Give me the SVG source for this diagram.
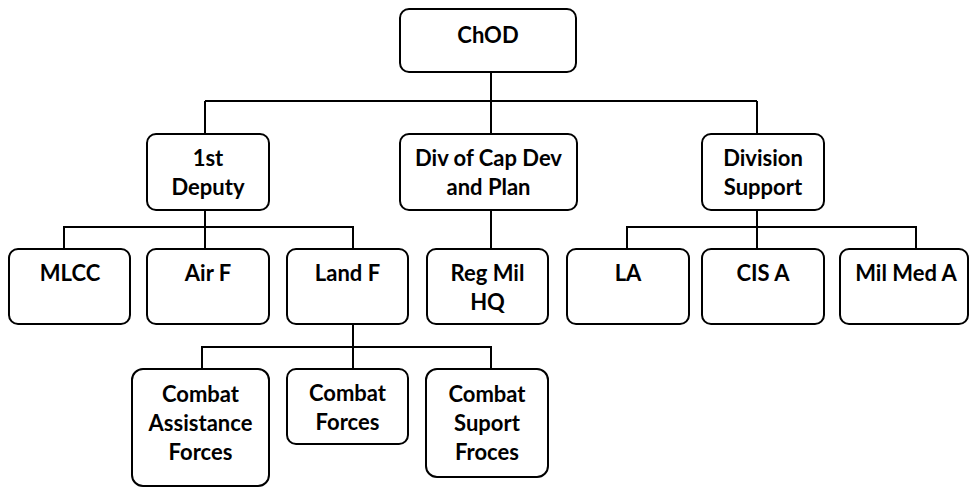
<svg xmlns="http://www.w3.org/2000/svg" width="969" height="488" viewBox="0 0 969 488">
<style>
.box{fill:#fff;stroke:#000;stroke-width:2}
.lbl{font-family:Lato,"Open Sans","Liberation Sans",sans-serif;font-weight:bold;font-size:22px;fill:#000;text-anchor:middle}
.con{fill:none;stroke:#000;stroke-width:2}
</style>
<rect width="969" height="488" fill="#fff"/>
<g id="connectors" class="con">
<path d="M491,72 V134"/>
<path d="M205,101 H757"/>
<path d="M205,101 V134"/>
<path d="M757,101 V133"/>
<path d="M205,210 V249"/>
<path d="M64,249 V227 H353 V249"/>
<path d="M491,210 V249"/>
<path d="M757,210 V249"/>
<path d="M627,249 V227 H916 V249"/>
<path d="M353,324 V369"/>
<path d="M202,369 V347 H491 V369"/>
</g>
<g id="chod"><rect class="box" x="400" y="9" width="176" height="63" rx="9"/><text class="lbl" x="488" y="43">ChOD</text></g>
<g id="first-deputy"><rect class="box" x="147" y="134" width="122" height="76" rx="9"/><text class="lbl" x="208" y="166">1st</text><text class="lbl" x="208" y="195">Deputy</text></g>
<g id="div-cap-dev"><rect class="box" x="400" y="134" width="177" height="76" rx="9"/><text class="lbl" x="488.5" y="166">Div of Cap Dev</text><text class="lbl" x="488.5" y="195">and Plan</text></g>
<g id="division-support"><rect class="box" x="702" y="134" width="122" height="76" rx="9"/><text class="lbl" x="763" y="166">Division</text><text class="lbl" x="763" y="195">Support</text></g>
<g id="mlcc"><rect class="box" x="9" y="249" width="121" height="75" rx="9"/><text class="lbl" x="70" y="281">MLCC</text></g>
<g id="air-f"><rect class="box" x="147" y="249" width="122" height="75" rx="9"/><text class="lbl" x="208" y="281">Air F</text></g>
<g id="land-f"><rect class="box" x="287" y="249" width="121" height="75" rx="9"/><text class="lbl" x="347.5" y="281">Land F</text></g>
<g id="reg-mil-hq"><rect class="box" x="427" y="249" width="121" height="75" rx="9"/><text class="lbl" x="487.5" y="281">Reg Mil</text><text class="lbl" x="487.5" y="310">HQ</text></g>
<g id="la"><rect class="box" x="567" y="249" width="122" height="75" rx="9"/><text class="lbl" x="628" y="281">LA</text></g>
<g id="cis-a"><rect class="box" x="702" y="249" width="122" height="75" rx="9"/><text class="lbl" x="763" y="281">CIS A</text></g>
<g id="mil-med-a"><rect class="box" x="840" y="249" width="128" height="75" rx="9"/><text class="lbl" x="906" y="281">Mil Med A</text></g>
<g id="combat-assistance"><rect class="box" x="132" y="369" width="137" height="117" rx="11"/><text class="lbl" x="200.5" y="402">Combat</text><text class="lbl" x="200.5" y="431">Assistance</text><text class="lbl" x="200.5" y="460">Forces</text></g>
<g id="combat-forces"><rect class="box" x="287" y="369" width="121" height="75" rx="9"/><text class="lbl" x="347.5" y="401">Combat</text><text class="lbl" x="347.5" y="430">Forces</text></g>
<g id="combat-suport"><rect class="box" x="426" y="369" width="122" height="108" rx="11"/><text class="lbl" x="487" y="402">Combat</text><text class="lbl" x="487" y="431">Suport</text><text class="lbl" x="487" y="460">Froces</text></g>
</svg>
